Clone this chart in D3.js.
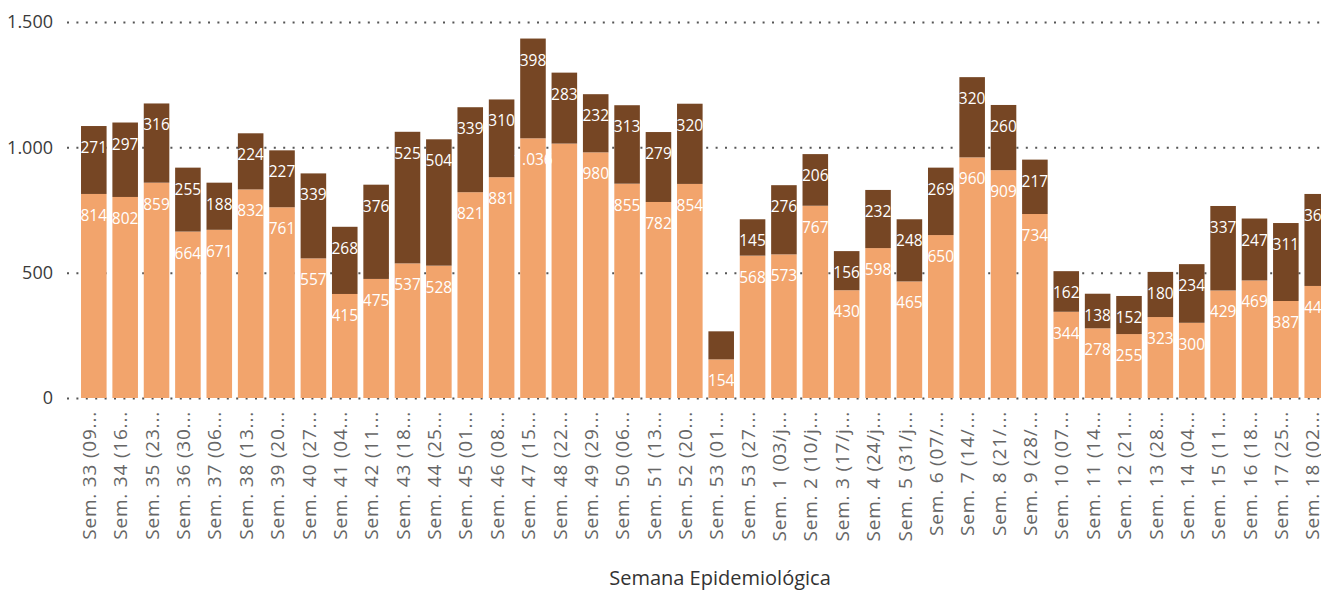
<!DOCTYPE html>
<html>
<head>
<meta charset="utf-8">
<script src="https://cdn.jsdelivr.net/npm/d3@7"></script>
<style>
  body { margin: 0; background: #fff; }
  svg { display: block; font-family: "Open Sans", sans-serif; }
</style>
</head>
<body>
<script>
const WEEKS = [
  "Sem. 33 (09...", "Sem. 34 (16...", "Sem. 35 (23...", "Sem. 36 (30...", "Sem. 37 (06...",
  "Sem. 38 (13...", "Sem. 39 (20...", "Sem. 40 (27...", "Sem. 41 (04...", "Sem. 42 (11...",
  "Sem. 43 (18...", "Sem. 44 (25...", "Sem. 45 (01...", "Sem. 46 (08...", "Sem. 47 (15...",
  "Sem. 48 (22...", "Sem. 49 (29...", "Sem. 50 (06...", "Sem. 51 (13...", "Sem. 52 (20...",
  "Sem. 53 (01...", "Sem. 53 (27...", "Sem. 1 (03/j...", "Sem. 2 (10/j...", "Sem. 3 (17/j...",
  "Sem. 4 (24/j...", "Sem. 5 (31/j...", "Sem. 6 (07/...", "Sem. 7 (14/...", "Sem. 8 (21/...",
  "Sem. 9 (28/...", "Sem. 10 (07...", "Sem. 11 (14...", "Sem. 12 (21...", "Sem. 13 (28...",
  "Sem. 14 (04...", "Sem. 15 (11...", "Sem. 16 (18...", "Sem. 17 (25...", "Sem. 18 (02..."
]

const LOWER = [814, 802, 859, 664, 671, 832, 761, 557, 415, 475,
  537, 528, 821, 881, 1036, 1015, 980, 855, 782, 854,
  154, 568, 573, 767, 430, 598, 465, 650, 960, 909,
  734, 344, 278, 255, 323, 300, 429, 469, 387, 447]

const UPPER = [271, 297, 316, 255, 188, 224, 227, 339, 268, 376,
  525, 504, 339, 310, 398, 283, 232, 313, 279, 320,
  112, 145, 276, 206, 156, 232, 248, 269, 320, 260,
  217, 162, 138, 152, 180, 234, 337, 247, 311, 367]

const Y_TICKS = [0, 500, 1000, 1500]

// labels power bi left out
const HIDDEN = ["lower|Sem. 48 (22...", "upper|Sem. 53 (01..."]

const COLORS = { lower: "#f2a46c", upper: "#764624" }

const m = { width: 1321, height: 590 }

const fmt = d3.formatLocale({ decimal: ",", thousands: ".", grouping: [3], currency: ["", ""] }).format(",d")

const rows = WEEKS.map((w, i) => ({ week: w, lower: LOWER[i], upper: UPPER[i] }))

const svg = d3.select("body").append("svg")
    .attr("width", m.width)
    .attr("height", m.height)

const x = d3.scaleBand()
    .domain(WEEKS)
    .range([76, 76 + 31.35 * 40.16])
    .paddingInner(0.185)
    .paddingOuter(0.16)

const y = d3.scaleLinear()
    .domain([0, 1500])
    .range([398, 22])

// dotted gridlines
svg.append("g")
  .selectAll("line")
  .data(Y_TICKS)
  .enter()
  .append("line")
    .attr("x1", 67)
    .attr("x2", m.width)
    .attr("y1", d => y(d) + 0.5)
    .attr("y2", d => y(d) + 0.5)
    .attr("stroke", "#555")
    .attr("stroke-width", 2)
    .attr("stroke-dasharray", "2,7.4")

svg.append("g")
  .selectAll("text")
  .data(Y_TICKS)
  .enter()
  .append("text")
    .attr("x", 53)
    .attr("y", d => y(d))
    .attr("dy", "0.36em")
    .attr("text-anchor", "end")
    .attr("font-size", 18)
    .attr("fill", "#3a3a3a")
    .text(d => fmt(d))

const stack = d3.stack().keys(["lower", "upper"])
const series = stack(rows)

const layers = svg.append("g")
  .selectAll("g")
  .data(series)
  .enter()
  .append("g")
    .attr("fill", d => COLORS[d.key])

layers.selectAll("rect")
  .data(d => d)
  .enter()
  .append("rect")
    .attr("x", d => x(d.data.week))
    .attr("width", x.bandwidth())
    .attr("y", d => y(d[1]))
    .attr("height", d => y(d[0]) - y(d[1]))

// data labels, inside end
const labels = svg.append("g")
    .attr("font-size", 15.5)
    .attr("fill", "#fff")
    .attr("text-anchor", "middle")

series.forEach(s => {
  labels.selectAll(".l-" + s.key)
    .data(s.filter(d => HIDDEN.indexOf(s.key + "|" + d.data.week) < 0))
    .enter()
    .append("text")
      .attr("class", "l-" + s.key)
      .attr("x", d => x(d.data.week) + x.bandwidth() / 2)
      .attr("y", d => y(d[1]) + 27)
      .text(d => fmt(d.data[s.key]))
})

// x axis labels
svg.append("g")
  .selectAll("text")
  .data(WEEKS)
  .enter()
  .append("text")
    .attr("transform", d => "translate(" + (x(d) + x.bandwidth() / 2 - 4.5) + ",411) rotate(-90)")
    .attr("dy", "0.35em")
    .attr("text-anchor", "end")
    .attr("font-size", 19)
    .attr("letter-spacing", 0.8)
    .attr("fill", "#666")
    .text(d => d)

svg.append("text")
    .attr("x", 720)
    .attr("y", 585)
    .attr("text-anchor", "middle")
    .attr("font-size", 20)
    .attr("fill", "#333")
    .text("Semana Epidemiológica")
</script>
</body>
</html>
